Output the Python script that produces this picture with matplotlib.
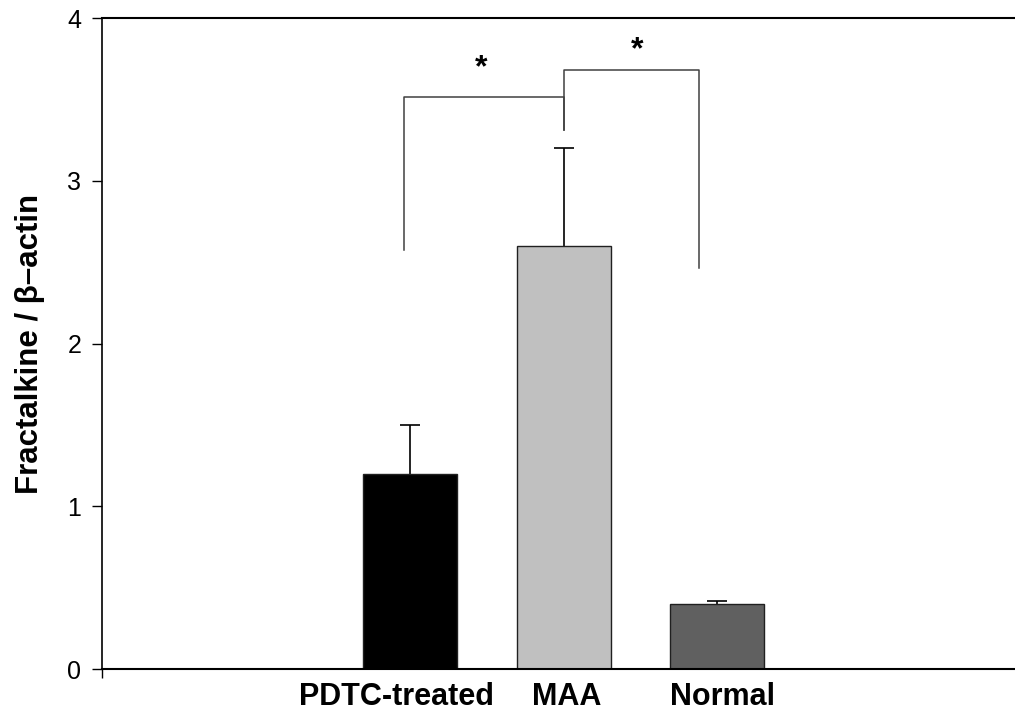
import matplotlib.pyplot as plt
import matplotlib.transforms as mtransforms

plt.rcParams['font.family'] = ['Liberation Sans', 'DejaVu Sans']

# Data
groups = ['PDTC-treated', 'MAA', 'Normal']
means = [1.2, 2.6, 0.4]
errors = [0.3, 0.6, 0.02]
colors = ['#000000', '#c0c0c0', '#606060']

# Significance brackets (x, y in data units) and star positions
bracket_left_x = [-0.04, -0.04, 1.0, 1.0]
bracket_left_y = [2.575, 3.515, 3.515, 3.31]
bracket_right_x = [1.0, 1.0, 1.88, 1.88]
bracket_right_y = [3.31, 3.68, 3.68, 2.464]
stars_x = [0.46, 1.48]
stars_y = [3.64, 3.75]

x = list(range(len(groups)))

fig = plt.figure(figsize=(10.15, 7.15), dpi=100)
ax = fig.add_axes([0.1005, 0.0643, 0.8995, 0.9105])

ax.bar(x, means, width=0.612, color=colors, edgecolor='#202020', linewidth=1.0, zorder=2)
eb = ax.errorbar(x, means, yerr=[[0] * len(errors), errors], fmt='none', ecolor='black',
                 elinewidth=1.2, capsize=7, capthick=1.2, zorder=1)
# hide the lower caps that would sit on the bar tops
for cap in eb[1]:
    if list(cap.get_ydata()) == means:
        cap.set_visible(False)

ax.plot(bracket_left_x, bracket_left_y, color='#404040', linewidth=1.1)
ax.plot(bracket_right_x, bracket_right_y, color='#404040', linewidth=1.1)
for sx, sy in zip(stars_x, stars_y):
    ax.text(sx, sy, '*', ha='center', va='baseline', fontsize=23, fontweight='bold')

ax.set_xlim(-2.007, 3.94)
ax.set_ylim(0, 4)
ax.set_yticks([0, 1, 2, 3, 4])
ax.tick_params(axis='y', direction='out', length=7, width=1.0, labelsize=18, pad=8)

ax.set_xticks(x)
ax.set_xticklabels(groups, fontsize=22, fontweight='bold')
ax.tick_params(axis='x', which='major', length=0, pad=9)
ax.set_xticks([-2.007, 1], minor=True)
ax.tick_params(axis='x', which='minor', direction='out', length=6.5, width=1.0)

# small horizontal nudges of the category labels
offsets = [-14, 3, 5]
for lab, dx in zip(ax.get_xticklabels(), offsets):
    lab.set_transform(lab.get_transform() +
                      mtransforms.ScaledTranslation(dx / 100, 0, fig.dpi_scale_trans))

ax.set_ylabel('Fractalkine / β–actin', fontsize=22.5, fontweight='bold', labelpad=16)

ax.spines['right'].set_visible(False)
ax.spines['top'].set_linewidth(1.5)
ax.spines['bottom'].set_linewidth(1.5)
ax.spines['left'].set_linewidth(1.2)

plt.savefig('out.png', dpi=100)
